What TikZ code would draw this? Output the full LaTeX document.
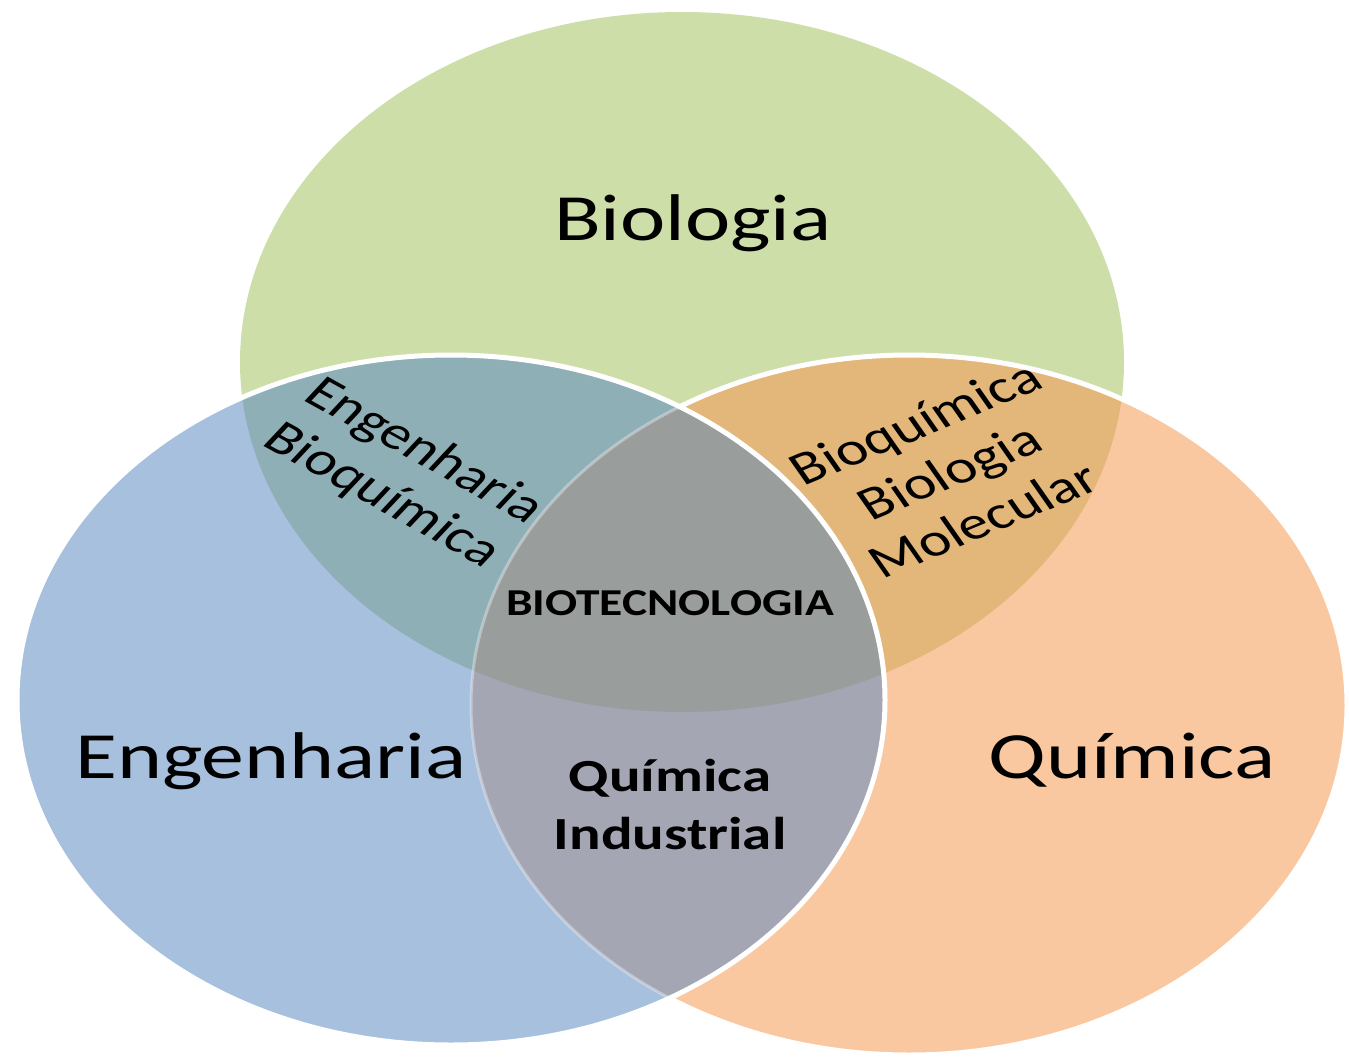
\documentclass[tikz,border=0pt]{standalone}
\usepackage{fontspec}
\setmainfont{Carlito}

% fills of the three sets and of their overlaps
\definecolor{bioG}{HTML}{CDDEA8}
\definecolor{engB}{HTML}{A7C0DE}
\definecolor{quiO}{HTML}{F9C8A0}
\definecolor{gbMix}{HTML}{8FAFB7}
\definecolor{goMix}{HTML}{E3B679}
\definecolor{boMix}{HTML}{A5A6B4}
\definecolor{allMix}{HTML}{999D9C}

% the three sets
\def\vennBio{(682,362) ellipse [x radius=442pt, y radius=350pt]}
\def\vennEng{(451,700) ellipse [x radius=434pt, y radius=345pt]}
\def\vennQui{(909,705) ellipse [x radius=438pt, y radius=350pt]}

\begin{document}
\begin{tikzpicture}[x=1pt, y=-1pt,
  rim/.style={draw=white, line width=5pt},
  faintrim/.style={draw=white, draw opacity=0.35, line width=3pt},
  title/.style={inner sep=0pt, text=black, xscale=1.3,
    font=\fontsize{66pt}{79pt}\selectfont},
  lens/.style={inner sep=0pt, text=black, xscale=1.3, align=center,
    font=\fontsize{47pt}{55pt}\selectfont},
  core/.style={inner sep=0pt, text=black, xscale=1.28, align=center,
    font=\bfseries\fontsize{46pt}{58pt}\selectfont},
  hub/.style={inner sep=0pt, text=black, xscale=1.25,
    font=\bfseries\fontsize{38pt}{45pt}\selectfont}]

\useasboundingbox (0,0) rectangle (1349,1060);
\fill[white] (0,0) rectangle (1349,1060);

% Biologia and Química, with their overlap
\fill[bioG] \vennBio;
\fill[quiO] \vennQui;
\begin{scope}
  \clip \vennQui;
  \fill[goMix] \vennBio;
\end{scope}
\draw[rim] \vennQui;

% Engenharia on top, with the overlaps it covers
\fill[engB] \vennEng;
\begin{scope}
  \clip \vennEng;
  \fill[gbMix] \vennBio;
  \fill[boMix] \vennQui;
  \clip \vennQui;
  \fill[allMix] \vennBio;
\end{scope}
\begin{scope}
  \clip \vennEng;
  \draw[faintrim] \vennQui;
\end{scope}
\draw[rim] \vennEng;

% set names
\node[title, anchor=base] (bio) at (693,240) {Biologia};
\node[title, anchor=base] (eng) at (271,778) {Engenharia};
\node[title, anchor=base] (qui) at (1132,778) {Química};

% overlap labels
\node[lens, rotate=-35.8] (engbio) at (403,474) {Engenharia\\Bioquímica};
\node[lens, rotate=28.3] (bioqmol) at (949,471) {Bioquímica\\Biologia\\Molecular};
\node[hub, anchor=base] (biotec) at (670,615) {BIOTECNOLOGIA};
\node[core] (quiind) at (670,805) {Química\\Industrial};

\end{tikzpicture}
\end{document}
